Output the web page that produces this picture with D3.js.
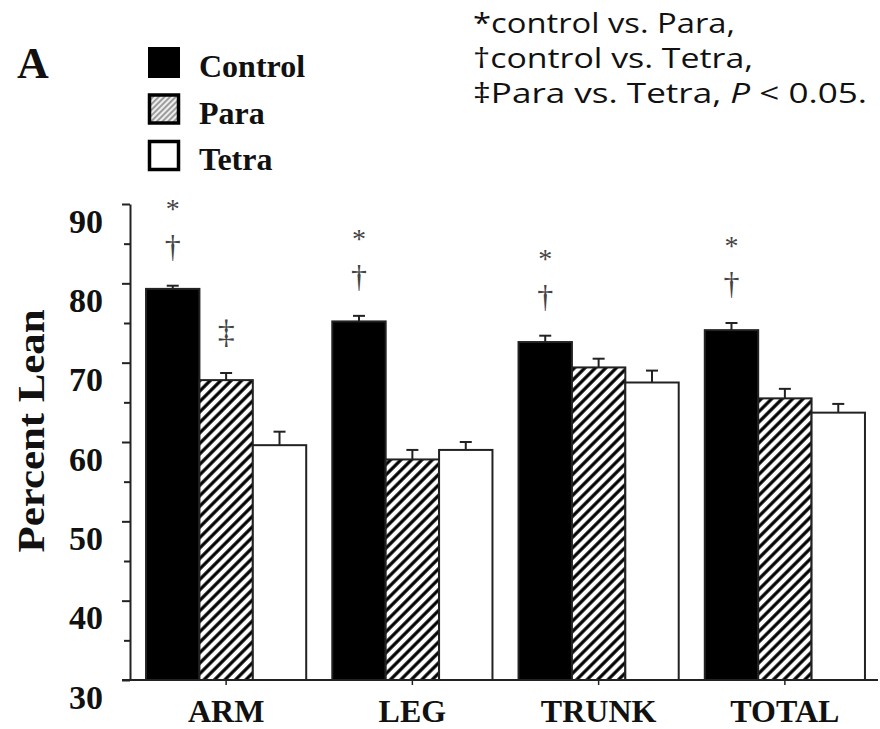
<!DOCTYPE html>
<html>
<head>
<meta charset="utf-8">
<script src="https://cdn.jsdelivr.net/npm/d3@7"></script>
<style>
  body { margin: 0; background: #fff; }
  svg { display: block; }
  .serif { font-family: "Liberation Serif", "Times New Roman", serif; font-weight: bold; }
</style>
</head>
<body>
<script>
var categories = ["ARM", "LEG", "TRUNK", "TOTAL"];
var seriesNames = ["Control", "Para", "Tetra"];

var controlValues = [79.3, 75.2, 72.6, 74.1];
var controlErrors = [0.4, 0.7, 0.8, 0.9];
var paraValues = [67.8, 57.8, 69.4, 65.5];
var paraErrors = [0.9, 1.2, 1.1, 1.2];
var tetraValues = [59.6, 59.0, 67.5, 63.7];
var tetraErrors = [1.7, 1.0, 1.5, 1.1];

var yTicks = [30, 35, 40, 45, 50, 55, 60, 65, 70, 75, 80, 85, 90];
var yTickLabels = ["30", "40", "50", "60", "70", "80", "90"];

// significance marks, listed top to bottom above each bar
var sigMarks = [
  {category: "ARM", series: "Control", symbols: ["*", "\u2020"]},
  {category: "ARM", series: "Para", symbols: ["\u2021"]},
  {category: "LEG", series: "Control", symbols: ["*", "\u2020"]},
  {category: "TRUNK", series: "Control", symbols: ["*", "\u2020"]},
  {category: "TOTAL", series: "Control", symbols: ["*", "\u2020"]}
];

var noteLines = [
  [["*control vs. Para,", false]],
  [["\u2020control vs. Tetra,", false]],
  [["\u2021Para vs. Tetra, ", false], ["P", true], [" < 0.05.", false]]
];
var noteWidths = [262, 280, 394];

var width = 880, height = 729;

var svg = d3.select("body").append("svg")
  .attr("width", width)
  .attr("height", height);

var defs = svg.append("defs");

var hatch = defs.append("pattern")
  .attr("id", "hatch")
  .attr("patternUnits", "userSpaceOnUse")
  .attr("width", 7.4).attr("height", 7.4)
  .attr("patternTransform", "rotate(45)");
hatch.append("rect").attr("width", 7.4).attr("height", 7.4).attr("fill", "#fff");
hatch.append("line")
  .attr("x1", 3.7).attr("y1", 0).attr("x2", 3.7).attr("y2", 7.4)
  .attr("stroke", "#000").attr("stroke-width", 3.2);

var hatchFine = defs.append("pattern")
  .attr("id", "hatchFine")
  .attr("patternUnits", "userSpaceOnUse")
  .attr("width", 4).attr("height", 4)
  .attr("patternTransform", "rotate(45)");
hatchFine.append("rect").attr("width", 4).attr("height", 4).attr("fill", "#eee");
hatchFine.append("line")
  .attr("x1", 2).attr("y1", 0).attr("x2", 2).attr("y2", 4)
  .attr("stroke", "#888").attr("stroke-width", 1.6);

var fills = {Control: "#000", Para: "url(#hatch)", Tetra: "#fff"};

var rows = categories.map(function(c, i) {
  return {
    category: c,
    bars: [
      {category: c, series: "Control", value: controlValues[i], err: controlErrors[i]},
      {category: c, series: "Para", value: paraValues[i], err: paraErrors[i]},
      {category: c, series: "Tetra", value: tetraValues[i], err: tetraErrors[i]}
    ]
  };
});

var y = d3.scaleLinear().domain([30, 90]).range([680, 204]);

var x0 = d3.scaleBand()
  .domain(categories)
  .range([133, 878])
  .paddingInner(0.14)
  .paddingOuter(0.07);

var x1 = d3.scaleBand()
  .domain(seriesNames)
  .range([0, x0.bandwidth()]);

// bars
var groups = svg.append("g").selectAll("g")
  .data(rows)
  .enter().append("g")
  .attr("transform", function(d) { return "translate(" + x0(d.category) + ",0)"; });

groups.selectAll("rect")
  .data(function(d) { return d.bars; })
  .enter().append("rect")
  .attr("x", function(d) { return x1(d.series); })
  .attr("width", x1.bandwidth())
  .attr("y", function(d) { return y(d.value); })
  .attr("height", function(d) { return y(30) - y(d.value); })
  .attr("fill", function(d) { return fills[d.series]; })
  .attr("stroke", "#222")
  .attr("stroke-width", 2);

// error bars
var errG = groups.selectAll("g.err")
  .data(function(d) { return d.bars; })
  .enter().append("g")
  .attr("class", "err")
  .attr("stroke", "#222")
  .attr("stroke-width", 2);

errG.append("line")
  .attr("x1", function(d) { return x1(d.series) + x1.bandwidth() / 2; })
  .attr("x2", function(d) { return x1(d.series) + x1.bandwidth() / 2; })
  .attr("y1", function(d) { return y(d.value); })
  .attr("y2", function(d) { return y(d.value + d.err); });

errG.append("line")
  .attr("x1", function(d) { return x1(d.series) + x1.bandwidth() / 2 - 6; })
  .attr("x2", function(d) { return x1(d.series) + x1.bandwidth() / 2 + 6; })
  .attr("y1", function(d) { return y(d.value + d.err); })
  .attr("y2", function(d) { return y(d.value + d.err); });

// significance symbols
function findBar(cat, ser) {
  var row = rows[categories.indexOf(cat)];
  return row.bars[seriesNames.indexOf(ser)];
}

var symSize = {"*": 28, "\u2020": 32, "\u2021": 34};
var symShift = {"*": 12, "\u2020": 11, "\u2021": 10};

sigMarks.forEach(function(m) {
  var b = findBar(m.category, m.series);
  var cx = x0(m.category) + x1(m.series) + x1.bandwidth() / 2;
  var top = y(b.value + b.err);
  var n = m.symbols.length;
  m.symbols.forEach(function(s, i) {
    var level = n - i; // 1 = closest to bar
    svg.append("text")
      .attr("x", cx)
      .attr("y", top - 40 * level + symShift[s])
      .attr("text-anchor", "middle")
      .attr("font-family", "Liberation Serif, Times New Roman, serif")
      .attr("font-size", symSize[s])
      .attr("fill", "#444")
      .text(s);
  });
});

// y axis
var yAxis = d3.axisLeft(y)
  .tickValues(yTicks)
  .tickSizeOuter(0)
  .tickFormat(function(d) { return d % 10 === 0 ? yTickLabels[(d - 30) / 10] : ""; });

var yg = svg.append("g")
  .attr("transform", "translate(130,0)")
  .call(yAxis);

yg.select(".domain").attr("stroke", "#222").attr("stroke-width", 2);
yg.selectAll(".tick line")
  .attr("stroke", "#222")
  .attr("stroke-width", 2)
  .attr("x2", function(d) { return d % 10 === 0 ? -8 : -6; });
yg.selectAll(".tick text")
  .attr("class", "serif")
  .attr("x", -27)
  .attr("y", 28)
  .attr("dy", 0)
  .attr("font-size", 34)
  .attr("fill", "#111");

// x axis
svg.append("line")
  .attr("x1", 122).attr("x2", 878)
  .attr("y1", y(30)).attr("y2", y(30))
  .attr("stroke", "#222").attr("stroke-width", 2);

var xAxis = d3.axisBottom(x0).tickSize(5).tickSizeOuter(0);
var xg = svg.append("g")
  .attr("transform", "translate(0," + y(30) + ")")
  .call(xAxis);
xg.select(".domain").remove();
xg.selectAll(".tick line").attr("stroke", "#222").attr("stroke-width", 1.5);
xg.selectAll(".tick text")
  .attr("class", "serif")
  .attr("y", 42)
  .attr("dy", 0)
  .attr("font-size", 32)
  .attr("fill", "#111");

// y title
svg.append("text")
  .attr("class", "serif")
  .attr("transform", "translate(44,431) rotate(-90)")
  .attr("text-anchor", "middle")
  .attr("font-size", 38)
  .attr("textLength", 243)
  .attr("lengthAdjust", "spacingAndGlyphs")
  .attr("fill", "#111")
  .text("Percent Lean");

// panel letter
svg.append("text")
  .attr("class", "serif")
  .attr("x", 17).attr("y", 78)
  .attr("font-size", 44)
  .attr("fill", "#111")
  .text("A");

// legend
var legend = svg.append("g").selectAll("g")
  .data(seriesNames)
  .enter().append("g")
  .attr("transform", function(d, i) { return "translate(148," + (47 + i * 46.5) + ")"; });

legend.append("rect")
  .attr("x", function(d) { return d === "Control" ? 0 : 1.5; })
  .attr("y", function(d) { return d === "Control" ? 0 : 1.5; })
  .attr("width", function(d) { return d === "Control" ? 32 : 29; })
  .attr("height", function(d) { return d === "Control" ? 31 : 28; })
  .attr("fill", function(d) { return d === "Para" ? "url(#hatchFine)" : fills[d]; })
  .attr("stroke", "#000")
  .attr("stroke-width", function(d) { return d === "Control" ? 0 : 3.5; });

legend.append("text")
  .attr("class", "serif")
  .attr("x", 51)
  .attr("y", 30)
  .attr("font-size", 32)
  .attr("fill", "#111")
  .text(function(d) { return d; });

// note text, one text element per line
noteLines.forEach(function(line, i) {
  var t = svg.append("text")
    .attr("x", 473)
    .attr("y", 33 + i * 35)
    .attr("font-family", "Open Sans, Noto Sans, sans-serif")
    .attr("font-size", 28)
    .attr("textLength", noteWidths[i])
    .attr("lengthAdjust", "spacingAndGlyphs")
    .attr("fill", "#111");
  line.forEach(function(part) {
    var s = t.append("tspan").text(part[0]);
    if (part[1]) s.attr("font-style", "italic");
  });
});
</script>
</body>
</html>
